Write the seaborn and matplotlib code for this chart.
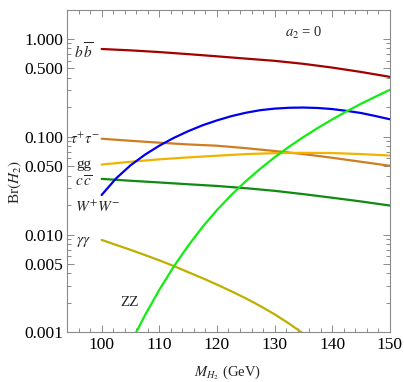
import matplotlib
matplotlib.use("Agg")
import matplotlib.pyplot as plt
import matplotlib.ticker as mticker
import seaborn as sns

# masses (GeV)
m5 = [100, 105, 110, 115, 120, 125, 130, 135, 140, 145, 150]
m_ww = [100, 102.5, 105, 107.5, 110, 112.5, 115, 117.5, 120, 122.5, 125,
        127.5, 130, 132.5, 135, 137.5, 140, 142.5, 145, 147.5, 150]
m_zz = [105, 107.5, 110, 112.5, 115, 117.5, 120, 122.5, 125, 127.5, 130,
        132.5, 135, 137.5, 140, 142.5, 145, 147.5, 150]
m_gaga = [100, 102.5, 105, 107.5, 110, 112.5, 115, 117.5, 120, 122.5, 125,
          127.5, 130, 132.5, 135, 137.5]

# branching ratios
br_bb = [0.79, 0.765, 0.735, 0.70, 0.665, 0.63, 0.598, 0.557, 0.51, 0.46, 0.41]
br_tautau = [0.0955, 0.091, 0.087, 0.0835, 0.081, 0.0765, 0.0715, 0.0665, 0.061, 0.0555, 0.0505]
br_gg = [0.052, 0.0555, 0.0588, 0.0615, 0.064, 0.0665, 0.068, 0.0685, 0.0682, 0.0665, 0.0643]
br_cc = [0.0371, 0.0355, 0.0341, 0.0327, 0.0314, 0.0298, 0.028, 0.0259, 0.0238, 0.0218, 0.0198]
br_ww = [0.0254, 0.0375, 0.051, 0.0655, 0.081, 0.0973, 0.114, 0.131, 0.147, 0.1625, 0.176,
         0.187, 0.194, 0.198, 0.199, 0.197, 0.192, 0.184, 0.175, 0.163, 0.151]
br_zz = [0.00077, 0.00149, 0.00272, 0.0047, 0.00767, 0.01196, 0.0178, 0.0254, 0.0351, 0.047,
         0.0617, 0.079, 0.0994, 0.123, 0.1505, 0.182, 0.2176, 0.257, 0.302]
br_gaga = [0.00881, 0.00785, 0.00698, 0.00618, 0.00545, 0.00477, 0.00413, 0.00358, 0.00308,
           0.00263, 0.00223, 0.00186, 0.00153, 0.00123, 0.00097, 0.00074]

ytick_vals = [0.001, 0.005, 0.01, 0.05, 0.1, 0.5, 1.0]
ytick_labels = ["0.001", "0.005", "0.010", "0.050", "0.100", "0.500", "1.000"]
xtick_vals = [100, 110, 120, 130, 140, 150]

sns.set_theme(style="ticks")
plt.rcParams["font.family"] = ["Liberation Serif", "DejaVu Serif"]
plt.rcParams["mathtext.fontset"] = "stix"

fig = plt.figure(figsize=(4.04, 3.82), dpi=100)
ax = fig.add_axes([0.166, 0.130, 0.799, 0.845])

lw = 1.6
sns.lineplot(x=m5, y=br_bb, color="#a30000", lw=lw, ax=ax)
sns.lineplot(x=m5, y=br_tautau, color="#cf7d22", lw=lw, ax=ax)
sns.lineplot(x=m5, y=br_gg, color="#f0b400", lw=lw, ax=ax)
sns.lineplot(x=m5, y=br_cc, color="#108a10", lw=lw, ax=ax)
sns.lineplot(x=m_ww, y=br_ww, color="#0000f0", lw=lw, ax=ax)
sns.lineplot(x=m_gaga, y=br_gaga, color="#bdb000", lw=lw, ax=ax)
sns.lineplot(x=m_zz, y=br_zz, color="#10ee10", lw=lw, ax=ax)

ax.set_yscale("log")
ax.set_xlim(94, 150)
ax.set_ylim(0.001, 2.0)

ax.yaxis.set_major_locator(mticker.FixedLocator(ytick_vals))
ax.yaxis.set_major_formatter(mticker.FixedFormatter(ytick_labels))
ax.yaxis.set_minor_locator(mticker.LogLocator(subs=range(2, 10), numticks=20))
ax.yaxis.set_minor_formatter(mticker.NullFormatter())
ax.xaxis.set_major_locator(mticker.FixedLocator(xtick_vals))
ax.xaxis.set_minor_locator(mticker.MultipleLocator(2))

edge = "#8a8a8a"
for s in ax.spines.values():
    s.set_color(edge)
    s.set_linewidth(0.8)
ax.tick_params(which="both", direction="in", top=True, right=True, color=edge,
               labelsize=12.5, labelcolor="black", width=0.7, pad=3)
ax.tick_params(which="major", length=5)
ax.tick_params(which="minor", length=3)

fig.text(228 / 404, 1 - 373 / 382, "$M_{H_2}$ (GeV)", fontsize=10.5,
         ha="center", va="center")
fig.text(15 / 404, 1 - 182 / 382, "Br$(H_2)$", fontsize=11, rotation=90,
         ha="center", va="center")

lab = dict(ha="center", va="center", fontsize=11)
ax.text(96.9, 0.74, r"$b\,\overline{b}$", **lab)
ax.text(97.2, 0.095, r"$\tau^{+}\tau^{-}$", ha="center", va="center", fontsize=10.5)
ax.text(96.9, 0.0525, "gg", **lab)
ax.text(96.9, 0.0345, r"$c\,\overline{c}$", **lab)
ax.text(99.3, 0.0191, r"$W^{+}W^{-}$", **lab)
ax.text(96.9, 0.0084, r"$\gamma\gamma$", **lab)
ax.text(104.9, 0.0020, "ZZ", **lab)
ax.text(135.1, 1.16, r"$a_2$ = 0", ha="center", va="center", fontsize=10.5)

fig.savefig("out.png", dpi=100)
